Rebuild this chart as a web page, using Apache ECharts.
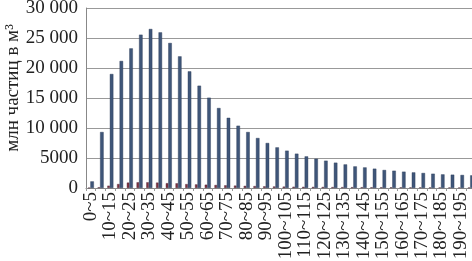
<!DOCTYPE html>
<html><head><meta charset="utf-8">
<script src="https://cdn.jsdelivr.net/npm/echarts@6/dist/echarts.min.js"></script>
<style>html,body{margin:0;padding:0;background:#fff}#c{width:472px;height:261px}</style>
</head><body><div id="c"></div>
<script>
var categories = [];
for (var k = 0; k < 40; k++) { categories.push((k * 5) + '~' + (k * 5 + 5)); }
var blueValues = [1100, 9330, 19000, 21170, 23270, 25550, 26500, 25940, 24170, 21940,
  19440, 17050, 15050, 13330, 11700, 10380, 9330, 8330, 7500, 6770,
  6220, 5720, 5270, 4880, 4550, 4220, 3930, 3600, 3430, 3220,
  3000, 2880, 2720, 2600, 2500, 2380, 2270, 2220, 2170, 2100];
var redValues = [50, 120, 380, 660, 900, 950, 950, 900, 800, 780,
  650, 600, 550, 500, 450, 400, 350, 320, 280, 250,
  230, 210, 200, 180, 170, 160, 150, 140, 130, 120,
  120, 110, 110, 100, 100, 90, 90, 90, 80, 80];
var yTitle = 'млн частиц в м³';

var chart = echarts.init(document.getElementById('c'), null, {renderer: 'canvas'});
chart.setOption({
  animation: false,
  grid: {left: 86, right: -3.6, top: 8, bottom: 73, containLabel: false, outerBoundsMode: 'none'},
  graphic: [{
    type: 'text', x: 13, y: 88, rotation: Math.PI / 2,
    style: {text: yTitle, fill: '#222', font: '19px "Liberation Serif"', align: 'center', verticalAlign: 'middle'}
  }],
  xAxis: {
    type: 'category', data: categories,
    axisLine: {lineStyle: {color: '#888', width: 1}},
    axisTick: {show: true, interval: 0, length: 3, lineStyle: {color: '#999'}},
    axisLabel: {rotate: 90, interval: 1, margin: 4, color: '#222',
      fontFamily: 'Liberation Serif', fontSize: 19}
  },
  yAxis: {
    type: 'value', min: 0, max: 30000, interval: 5000,
    axisLine: {show: true, lineStyle: {color: '#888'}},
    axisTick: {show: false},
    splitLine: {lineStyle: {color: '#999', width: 1}},
    axisLabel: {margin: 8, color: '#222', fontFamily: 'Liberation Serif', fontSize: 19,
      formatter: function (v) { return v >= 10000 ? String(v).replace(/(\d{2})(\d{3})$/, '$1 $2') : String(v); }}
  },
  series: [
    {type: 'bar', data: redValues, barWidth: 2.5, barGap: '0%',
      itemStyle: {color: '#7e3040', borderColor: '#4a2a3a', borderWidth: 0.4}},
    {type: 'bar', data: blueValues, barWidth: 3.5,
      itemStyle: {color: '#3f5679', borderColor: '#2a3a55', borderWidth: 0.4}}
  ]
});
</script></body></html>
